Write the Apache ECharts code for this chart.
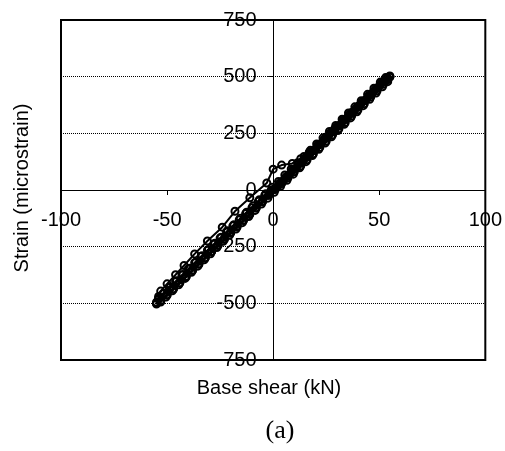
<!DOCTYPE html>
<html lang="en">
<head>
    <meta charset="UTF-8">
    <title>Strain vs base shear</title>
    <script src="https://cdn.jsdelivr.net/npm/echarts@6/dist/echarts.min.js"></script>
    <style>
        html, body {margin: 0; padding: 0; background: #fff;}
        #chart {width: 505px; height: 451px;}
    </style>
</head>
<body>
<div id="chart"></div>
<script type="text/javascript">
    // tick labels
    var shearTicks = [-100, -50, 0, 50, 100];
    var strainTicks = [-750, -500, -250, 0, 250, 500, 750];

    // [base shear kN, strain microstrain], in loading order
    var pass1 = [[0, 2], [3, 30], [6, 58], [9, 86], [12, 114], [15, 141], [18, 169], [21, 196], [24, 224], [27, 252],
        [30, 279], [33, 307], [36, 334], [39, 361], [42, 389], [45, 416], [48, 443], [51, 471], [53, 489], [55, 500]];
    var pass2 = [[54, 486], [52, 466], [49, 438], [46, 410], [43, 381], [40, 354], [37, 326], [34, 298], [31, 270],
        [28, 243], [25, 215], [22, 188], [19, 160], [16, 133], [13, 106], [10, 80], [7, 54], [4, 28], [1, 2],
        [-2, -24], [-5, -52], [-8, -80], [-11, -108], [-14, -135], [-17, -163], [-20, -190], [-23, -218],
        [-26, -245], [-29, -272], [-32, -300], [-35, -328], [-38, -355], [-41, -383], [-44, -410], [-47, -437],
        [-50, -462], [-53, -488], [-55, -500]];
    var pass3 = [[-54, -470], [-53, -446], [-50, -414], [-46, -374], [-42, -333], [-37, -282], [-31, -225],
        [-24, -164], [-18, -94], [-11, -34], [-3, 31], [0, 92], [4, 110], [9, 117], [13, 138], [17, 167],
        [21, 198], [25, 234], [29, 270], [33, 306], [37, 342], [41, 378], [45, 414], [49, 450], [52, 478], [55, 498]];
    var pass4 = [[53, 484], [50, 458], [47, 430], [44, 402], [41, 375], [38, 347], [35, 320], [32, 292], [29, 264],
        [26, 236], [23, 209], [20, 181], [17, 154], [14, 126], [11, 98], [8, 70], [5, 42], [2, 14], [-1, -2],
        [-4, -24], [-7, -50], [-10, -78], [-13, -104], [-16, -131], [-19, -158], [-22, -185], [-25, -212],
        [-28, -239], [-31, -266], [-34, -293], [-37, -321], [-40, -348], [-43, -375], [-46, -403], [-49, -430],
        [-52, -458], [-54, -478], [-55, -495]];
    var pass5 = [[-53, -490], [-50, -464], [-47, -437], [-44, -410], [-41, -382], [-38, -354], [-35, -327],
        [-32, -299], [-29, -271], [-26, -243], [-23, -216], [-20, -188], [-17, -160], [-14, -133], [-11, -105],
        [-8, -78], [-5, -50], [-2, -20], [1, 8], [4, 36], [7, 63], [10, 92], [13, 119], [16, 147], [19, 174],
        [22, 202], [25, 229], [28, 257], [31, 284], [34, 312], [37, 339], [40, 367], [43, 394], [46, 422],
        [49, 449], [52, 476], [54, 494], [55, 501]];
    var pass6 = [[54, 478], [51.5, 455], [48.5, 428], [45.5, 400], [42.5, 372], [39.5, 345], [36.5, 318],
        [33.5, 290], [30.5, 262], [27.5, 235], [24.5, 207], [21.5, 180], [18.5, 152], [15.5, 125], [12.5, 98],
        [9.5, 70], [6.5, 43], [3.5, 16], [0.5, -10], [-2.5, -36], [-5.5, -62], [-8.5, -90], [-11.5, -117],
        [-14.5, -144], [-17.5, -172], [-20.5, -199], [-23.5, -226], [-26.5, -254], [-29.5, -281], [-32.5, -308],
        [-35.5, -336], [-38.5, -363], [-41.5, -390], [-44.5, -418], [-47.5, -445], [-50.5, -472], [-53, -494],
        [-55, -503]];
    var pass7 = [[-54, -482], [-51.5, -455], [-48.5, -428], [-45.5, -400], [-42.5, -373], [-39.5, -345],
        [-36.5, -318], [-33.5, -290], [-30.5, -262], [-27.5, -235], [-24.5, -208], [-21.5, -180], [-18.5, -153],
        [-15.5, -125], [-12.5, -98], [-9.5, -70], [-6.5, -43], [-3.5, -16], [-0.5, 12], [2.5, 38], [5.5, 66],
        [8.5, 93], [11.5, 120], [14.5, 148], [17.5, 175], [20.5, 203], [23.5, 230], [26.5, 258], [29.5, 285],
        [32.5, 312], [35.5, 340], [38.5, 367], [41.5, 394], [44.5, 422], [47.5, 449], [50.5, 476], [53, 496],
        [55, 503]];

    var loadPath = [].concat(pass1, pass2, pass3, pass4, pass5, pass6, pass7);

    var font = 'Liberation Sans, Arial, sans-serif';
    var gridBox = {left: 61, right: 19, top: 20, bottom: 91};
    var myChart = echarts.init(document.getElementById('chart'));

    // zero lines sit in the middle of the box, labels have to follow them
    var midX = (505 - gridBox.left - gridBox.right) / 2;
    var midY = (451 - gridBox.top - gridBox.bottom) / 2;

    function xAxisDef(extra) {
        return Object.assign({
            type: 'value',
            min: shearTicks[0], max: shearTicks[shearTicks.length - 1], interval: 50
        }, extra);
    }

    function yAxisDef(extra) {
        return Object.assign({
            type: 'value',
            min: strainTicks[0], max: strainTicks[strainTicks.length - 1], interval: 250
        }, extra);
    }

    var option = {
        animation: false,
        backgroundColor: '#fff',
        grid: Object.assign({show: true, borderColor: '#000', borderWidth: 2, backgroundColor: 'transparent'}, gridBox),
        xAxis: [
            xAxisDef({
                axisLine: {onZero: true, lineStyle: {color: '#000', width: 1}},
                axisTick: {show: true, length: 5, lineStyle: {color: '#000'}},
                axisLabel: {show: false},
                splitLine: {show: false}
            }),
            xAxisDef({
                position: 'bottom', offset: -midY,
                axisLine: {show: false}, axisTick: {show: false}, splitLine: {show: false},
                axisLabel: {color: '#000', fontSize: 20, fontFamily: font, margin: 20}
            })
        ],
        yAxis: [
            yAxisDef({
                axisLine: {onZero: true, lineStyle: {color: '#000', width: 1}},
                axisTick: {show: true, length: 5, lineStyle: {color: '#000'}},
                axisLabel: {show: false},
                splitLine: {show: true, lineStyle: {color: '#000', width: 1, type: 'dotted'}}
            }),
            yAxisDef({
                position: 'left', offset: -midX,
                axisLine: {show: false}, axisTick: {show: false}, splitLine: {show: false},
                axisLabel: {color: '#000', fontSize: 20, fontFamily: font, margin: 17}
            })
        ],
        graphic: [
            {
                type: 'text', x: 269, y: 388,
                style: {text: 'Base shear (kN)', font: '20px ' + font, fill: '#000', textAlign: 'center', textVerticalAlign: 'middle'}
            },
            {
                type: 'text', x: 22, y: 188, rotation: Math.PI / 2,
                style: {text: 'Strain (microstrain)', font: '20px ' + font, fill: '#000', textAlign: 'center', textVerticalAlign: 'middle'}
            },
            {
                type: 'text', x: 280, y: 431,
                style: {text: '(a)', font: '26px Liberation Serif, Times New Roman, serif', fill: '#000', textAlign: 'center', textVerticalAlign: 'middle'}
            }
        ],
        series: [{
            type: 'line',
            xAxisIndex: 0, yAxisIndex: 0,
            data: loadPath,
            symbol: 'circle',
            symbolSize: 7,
            itemStyle: {color: 'rgba(0,0,0,0)', borderColor: '#000', borderWidth: 2},
            lineStyle: {color: '#000', width: 2},
            z: 5
        }]
    };

    myChart.setOption(option);
</script>
</body>
</html>
